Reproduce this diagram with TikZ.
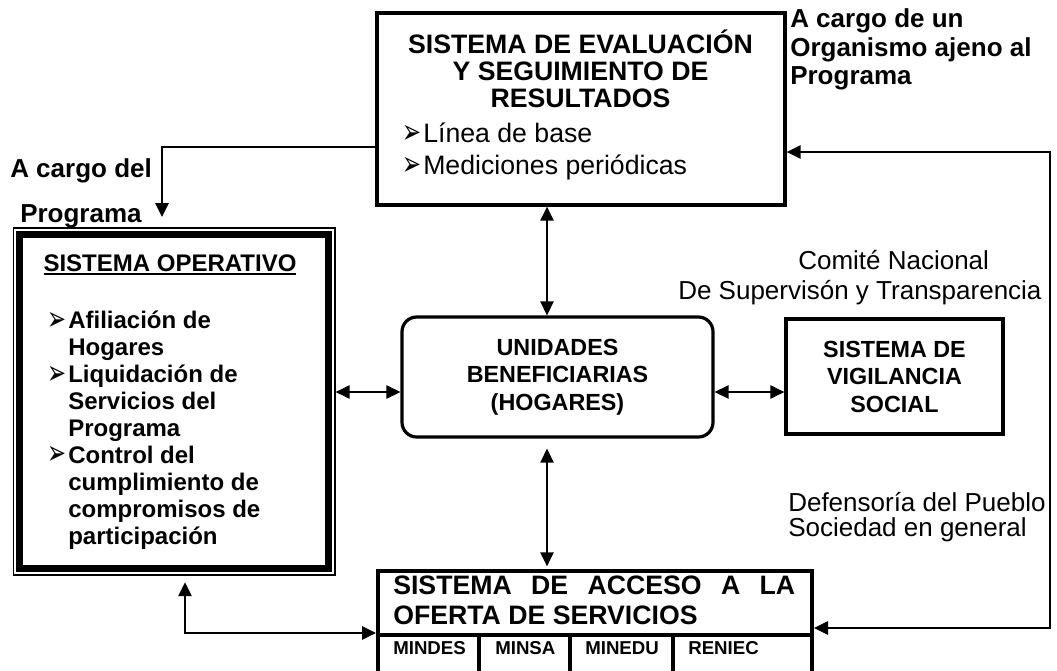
\documentclass[tikz,border=0pt]{standalone}
\usepackage{fontspec}
\setmainfont{Liberation Sans}
\newfontfamily\dingfont{DejaVu Sans}
\usetikzlibrary{
  arrows.meta,
  positioning   % relative placement
}
\newcommand\bigbold{\fontsize{20}{20.6}\selectfont\bfseries}
\newcommand\bigplain{\fontsize{20}{24}\selectfont}
\newcommand\accbold{\fontsize{20}{22.5}\selectfont\bfseries}
\newcommand\midbold{\fontsize{18}{20.2}\selectfont\bfseries}
\newcommand\boxbold{\fontsize{17.5}{20.6}\selectfont\bfseries}
\newcommand\labbold{\fontsize{19.5}{21.4}\selectfont\bfseries}
\newcommand\labplain{\fontsize{19.5}{22.5}\selectfont}
\newcommand\socfont{\fontsize{19.5}{18.75}\selectfont}
\newcommand\smallbold{\fontsize{14}{16}\selectfont\bfseries}
\newcommand\myarrow{\makebox[15.75pt][l]{\dingfont\fontsize{17}{17}\selectfont\raisebox{-1pt}{\scalebox{1}[1.5]{➢}}}}
\newcommand\myindent{\hspace*{15.75pt}}
\newcommand\ulbar[1]{\setbox0\hbox{#1}\rlap{\rule[-2.8pt]{\wd0}{1.4pt}}\box0}
\tikzset{
  >={Triangle[length=10.5pt,width=10pt]},
  conn/.style={line width=1.2pt},
  sys box/.style={
    draw,
    line width=2.5pt,
    rectangle,
    inner sep=0pt,
    align=center
  },
  round box/.style={
    draw,
    line width=2.4pt,
    rectangle,
    rounded corners=11pt,
    inner sep=0pt,
    align=center
  },
  txt/.style={inner sep=0pt,align=left}
}

\begin{document}
\begin{tikzpicture}[x=0.75pt,y=-0.75pt]
\useasboundingbox (0,0) rectangle (1057,671);

% boxes
\node[sys box,minimum width=306pt,minimum height=144pt] (eval) at (581,109) {};
\node[txt,align=center,font=\bigbold] (evaltitle) at (580.5,68.8)
  {SISTEMA DE EVALUACIÓN\\Y SEGUIMIENTO DE\\RESULTADOS};
\node[txt,font=\bigplain,anchor=north west] (evalitems) at (402,122.5)
  {\myarrow Línea de base\\\myarrow Mediciones periódicas};

\node[draw,line width=1.1pt,minimum width=241pt,minimum height=260pt,inner sep=0pt] (oper) at (174.25,401.5) {};
\draw[line width=5.25pt] ([shift={(7,7)}]oper.north west) rectangle ([shift={(-7,-7)}]oper.south east);
\node[txt,font=\midbold,anchor=base] (opertitle) at (170,271.5) {\ulbar{SISTEMA OPERATIVO}};
\node[txt,font=\midbold,anchor=north west] (operitems) at (47,311)
  {\myarrow Afiliación de\\\myindent Hogares\\\myarrow Liquidación de\\\myindent Servicios del\\
   \myindent Programa\\\myarrow Control del\\\myindent cumplimiento de\\\myindent compromisos de\\
   \myindent participación};

\node[round box,font=\boxbold,minimum width=233.25pt,minimum height=90pt] (unid) at (557.5,377)
  {UNIDADES\\BENEFICIARIAS\\(HOGARES)};
\node[sys box,font=\boxbold,minimum width=162.75pt,minimum height=86.25pt] (vigil) at (894.5,376.5)
  {SISTEMA DE\\VIGILANCIA\\SOCIAL};

\node[draw,line width=3pt,minimum width=325.5pt,minimum height=78.75pt,inner sep=0pt] (acceso) at (595,623.5) {};
\node[txt,font=\accbold,anchor=west] (accesotitle) at (393,600)
  {\makebox[301.5pt][s]{SISTEMA DE ACCESO A LA}\\OFERTA DE SERVICIOS};
\coordinate (div) at (0,635);
\draw[line width=3pt] (acceso.west |- div) -- (acceso.east |- div);
\foreach \cx in {479,570,673}
  \draw[line width=3pt] (\cx,635) -- (acceso.south -| \cx,0);
\foreach \lbl/\hx in {MINDES/393,MINSA/495,MINEDU/585,RENIEC/688}
  \node[txt,font=\smallbold,anchor=base west] (\lbl) at (\hx,654.5) {\lbl};

% labels
\node[txt,font=\labbold,anchor=base west] (cargodel) at (10,177.3) {A cargo del};
\node[txt,font=\labbold,anchor=base west] (cargoprog) at (20,222.3) {Programa};
\node[txt,font=\labbold,anchor=north west] (cargoorg) at (790,8.5)
  {A cargo de un\\Organismo ajeno al\\Programa};
\node[txt,font=\labplain,anchor=north west] (comite) at (678,250)
  {\hspace*{90pt}Comité Nacional\\De Supervisón y Transparencia};
\node[txt,font=\socfont,anchor=north west] (defensa) at (788,492)
  {Defensoría del Pueblo\\Sociedad en general};

% connectors
\coordinate (vx) at (547,0);
\coordinate (hy) at (0,392);
\coordinate (ly) at (0,147);
\coordinate (tl) at (162,217);
\coordinate (rtop) at (1050,152);
\coordinate (rbot) at (1050,628);
\coordinate (lb) at (185,633);
\draw[conn,<->] (eval.south -| vx) -- (unid.north -| vx);
\draw[conn,<->,shorten <=7.5pt,shorten >=2pt] (unid.south -| vx) -- (acceso.north -| vx);
\draw[conn,<->] (oper.east |- hy) -- (unid.west |- hy);
\draw[conn,<->] (unid.east |- hy) -- (vigil.west |- hy);
\draw[conn,->] (eval.west |- ly) -| (tl);
\draw[conn,<->] (eval.east |- rtop) -- (rtop) -- (rbot) -- (acceso.east |- rbot);
\draw[conn,<->,shorten <=5pt] (oper.south -| lb) -- (lb) -- (acceso.west |- lb);
\end{tikzpicture}
\end{document}
